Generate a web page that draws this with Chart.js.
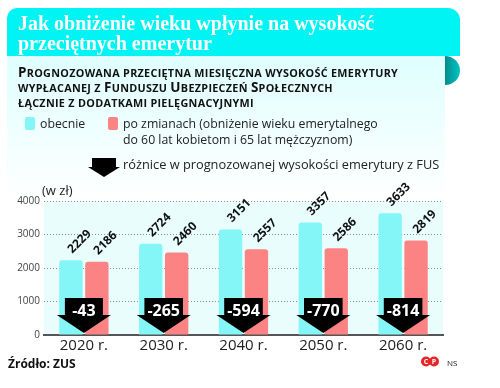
<!DOCTYPE html>
<html lang="pl">
<head>
<meta charset="utf-8">
<title>Jak obniżenie wieku wpłynie na wysokość przeciętnych emerytur</title>
<script src="https://cdn.jsdelivr.net/npm/chart.js@4.4.1/dist/chart.umd.min.js"></script>
<style>
    html, body { margin: 0; padding: 0; background: #fff; }
    #wrap { width: 500px; height: 388px; position: relative; }
</style>
</head>
<body>
<div id="wrap"><canvas id="chart" width="500" height="388"></canvas></div>
<script>
/* Emerytury z FUS - obecnie vs po zmianach */

// Data
const years = ['2020 r.', '2030 r.', '2040 r.', '2050 r.', '2060 r.'];
const currentPension = [2229, 2724, 3151, 3357, 3633];
const reformPension = [2186, 2460, 2557, 2586, 2819];
const differences = [-43, -265, -594, -770, -814];
const yTickValues = [0, 1000, 2000, 3000, 4000];

const titleLines = ['Jak obniżenie wieku wpłynie na wysokość', 'przeciętnych emerytur'];
const subtitleLines = [
    'Prognozowana przeciętna miesięczna wysokość emerytury',
    'wypłacanej z Funduszu Ubezpieczeń Społecznych',
    'łącznie z dodatkami pielęgnacyjnymi'
];
const legendCurrent = 'obecnie';
const legendReform = ['po zmianach (obniżenie wieku emerytalnego', 'do 60 lat kobietom i 65 lat mężczyznom)'];
const legendDiff = 'różnice w prognozowanej wysokości emerytury z FUS';
const unitLabel = '(w zł)';
const sourceLabel = 'Źródło: ZUS';

const CYAN = '#84f6f8';
const RED = '#fb8384';
const SANS = '"Open Sans", "DejaVu Sans", sans-serif';

// Draw text in small caps (capital letters bigger)
function drawSmallCaps(ctx, text, x, y, bigSize, smallSize) {
    let cx = x;
    for (const ch of text) {
        const isUpper = ch !== ch.toLowerCase() && ch === ch.toUpperCase();
        ctx.font = 'bold ' + (isUpper ? bigSize : smallSize) + 'px ' + SANS;
        const c = ch.toUpperCase();
        ctx.fillText(c, cx, y);
        cx += ctx.measureText(c).width + 0.3;
    }
}

// Black "down" arrow
function drawArrow(ctx, cx, top, mid, tip, rectW, triW) {
    ctx.beginPath();
    ctx.moveTo(cx - rectW / 2, top);
    ctx.lineTo(cx + rectW / 2, top);
    ctx.lineTo(cx + rectW / 2, mid);
    ctx.lineTo(cx + triW / 2, mid);
    ctx.lineTo(cx, tip);
    ctx.lineTo(cx - triW / 2, mid);
    ctx.lineTo(cx - rectW / 2, mid);
    ctx.closePath();
    ctx.fill();
}

const decorPlugin = {
    id: 'decor',
    beforeDraw(chart) {
        const ctx = chart.ctx;
        const area = chart.chartArea;
        ctx.save();
        ctx.fillStyle = '#ffffff';
        ctx.fillRect(0, 0, chart.width, chart.height);

        // light panel under the title
        const grad = ctx.createLinearGradient(0, 56, 0, 200);
        grad.addColorStop(0, '#dffefe');
        grad.addColorStop(1, '#ffffff');
        ctx.fillStyle = grad;
        ctx.fillRect(7, 56, 438, 144);

        // plot background
        ctx.fillStyle = '#e9fdfd';
        ctx.fillRect(area.left, area.top, area.right - area.left, area.bottom - area.top);

        // title bar
        ctx.fillStyle = '#00f4f4';
        ctx.beginPath();
        ctx.roundRect(7, 8, 453, 48, [10, 12, 0, 0]);
        ctx.fill();

        // fold on the right
        const fold = ctx.createLinearGradient(445, 0, 460, 0);
        fold.addColorStop(0, '#008c8c');
        fold.addColorStop(1, '#00c4c4');
        ctx.fillStyle = fold;
        ctx.beginPath();
        ctx.ellipse(445, 70.5, 15, 14.5, 0, -Math.PI / 2, Math.PI / 2);
        ctx.closePath();
        ctx.fill();
        ctx.restore();
    },
    afterDatasetsDraw(chart) {
        const ctx = chart.ctx;
        const area = chart.chartArea;
        const x = chart.scales.x;
        ctx.save();

        // rotated value labels
        ctx.fillStyle = '#111';
        ctx.font = 'bold 12px ' + SANS;
        ctx.textAlign = 'left';
        ctx.textBaseline = 'middle';
        chart.data.datasets.forEach((ds, di) => {
            chart.getDatasetMeta(di).data.forEach((bar, i) => {
                ctx.save();
                ctx.translate(bar.x - 1, bar.y - 9);
                ctx.rotate(-Math.PI / 4);
                ctx.fillText(String(ds.data[i]), 0, 0);
                ctx.restore();
            });
        });

        // difference arrows
        ctx.font = 'bold 16px ' + SANS;
        ctx.textAlign = 'center';
        differences.forEach((d, i) => {
            const cx = x.getPixelForValue(i);
            const label = '-' + Math.abs(d);
            const w = Math.max(ctx.measureText(label).width + 6, 38);
            ctx.fillStyle = '#000';
            drawArrow(ctx, cx, area.bottom - 37, area.bottom - 20, area.bottom - 2, w, 54);
            ctx.fillStyle = '#fff';
            ctx.fillText(label, cx, area.bottom - 24);
        });
        ctx.restore();
    },
    afterDraw(chart) {
        const ctx = chart.ctx;
        ctx.save();
        ctx.textAlign = 'left';
        ctx.textBaseline = 'alphabetic';

        // title
        ctx.fillStyle = '#ffffff';
        ctx.font = 'bold 20px "Liberation Serif", "DejaVu Serif", serif';
        ctx.fillText(titleLines[0], 18, 30);
        ctx.fillText(titleLines[1], 18, 50);

        // subtitle
        ctx.fillStyle = '#111';
        drawSmallCaps(ctx, subtitleLines[0], 18, 77, 13.5, 10.8);
        drawSmallCaps(ctx, subtitleLines[1], 18, 92, 13.5, 10.8);
        drawSmallCaps(ctx, subtitleLines[2], 18, 107, 13.5, 10.8);

        // legend
        ctx.fillStyle = CYAN;
        ctx.beginPath();
        ctx.roundRect(25, 117, 10, 13, 2);
        ctx.fill();
        ctx.fillStyle = RED;
        ctx.beginPath();
        ctx.roundRect(108, 117, 10, 13, 2);
        ctx.fill();

        ctx.fillStyle = '#222';
        ctx.font = '12.3px ' + SANS;
        ctx.fillText(legendCurrent, 40, 128);
        ctx.fillText(legendReform[0], 123, 128);
        ctx.fillText(legendReform[1], 123, 144);

        ctx.fillStyle = '#000';
        drawArrow(ctx, 104, 158, 167, 177, 24, 32);
        ctx.fillStyle = '#222';
        ctx.font = '12.8px ' + SANS;
        ctx.fillText(legendDiff, 123, 169);

        ctx.font = '13px ' + SANS;
        ctx.fillText(unitLabel, 42, 195);

        // source
        ctx.font = 'bold 12px ' + SANS;
        ctx.fillStyle = '#111';
        ctx.fillText(sourceLabel, 8, 368);

        // copyright marks
        [['C', 426], ['P', 434]].forEach(([t, cx]) => {
            ctx.fillStyle = '#e8262a';
            ctx.beginPath();
            ctx.arc(cx, 361.5, 5, 0, Math.PI * 2);
            ctx.fill();
            ctx.fillStyle = '#fff';
            ctx.font = 'bold 7px ' + SANS;
            ctx.textAlign = 'center';
            ctx.fillText(t, cx, 364);
        });
        ctx.fillStyle = '#222';
        ctx.font = '8px ' + SANS;
        ctx.textAlign = 'left';
        ctx.fillText('NS', 447, 366);
        ctx.restore();
    }
};

const ctx = document.getElementById('chart');

new Chart(ctx, {
    type: 'bar',
    data: {
        labels: years,
        datasets: [{
            label: legendCurrent,
            data: currentPension,
            backgroundColor: CYAN,
            borderRadius: 3,
            borderSkipped: 'bottom'
        }, {
            label: legendReform.join(' '),
            data: reformPension,
            backgroundColor: RED,
            borderRadius: 3,
            borderSkipped: 'bottom'
        }]
    },
    options: {
        responsive: false,
        animation: false,
        devicePixelRatio: 1,
        categoryPercentage: 0.65,
        barPercentage: 0.9,
        layout: {
            padding: { top: 201, right: 57, bottom: 23, left: 0 }
        },
        plugins: {
            legend: { display: false },
            tooltip: { enabled: false }
        },
        scales: {
            x: {
                grid: { display: false, drawTicks: false },
                border: { display: true, color: '#555', width: 2 },
                ticks: {
                    color: '#222',
                    font: { family: SANS, size: 15, lineHeight: 1 },
                    padding: 3
                },
                afterFit: scale => { scale.height = 30; }
            },
            y: {
                min: 0,
                max: 4000,
                afterBuildTicks: scale => {
                    scale.ticks = yTickValues.map(v => ({ value: v }));
                },
                grid: { color: '#8f8f8f', lineWidth: 1, drawTicks: false },
                border: { display: false, dash: [1, 2] },
                ticks: {
                    color: '#444',
                    font: { family: SANS, size: 10 },
                    padding: 4,
                    callback: v => String(v)
                },
                afterFit: scale => { scale.width = 44; }
            }
        }
    },
    plugins: [decorPlugin]
});
</script>
</body>
</html>
